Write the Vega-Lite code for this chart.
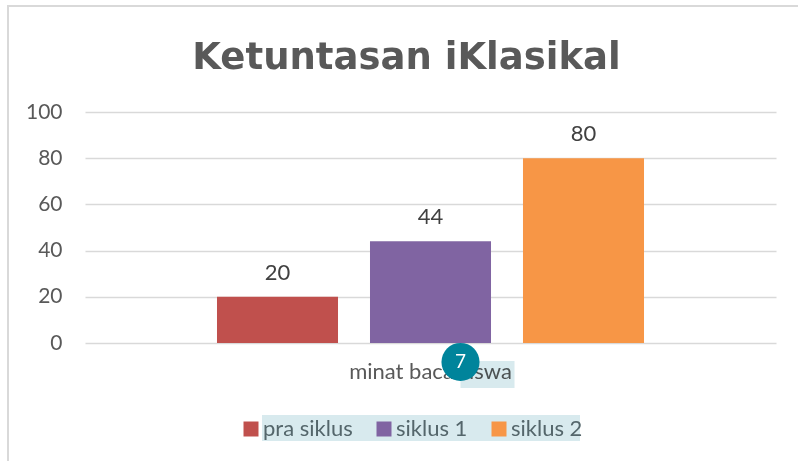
{"$schema":"https://vega.github.io/schema/vega-lite/v6.json","width":691,"height":231,"autosize":"none","padding":{"left":85,"top":112,"right":22,"bottom":118},"background":"white","view":{"stroke":null},"config":{"font":"Lato"},"title":{"text":"Ketuntasan iKlasikal","font":"DejaVu Sans","fontWeight":"bold","fontSize":37,"color":"#595959","anchor":"middle","frame":"group","dx":-24,"offset":-72},"data":{"values":[{"kategori":"minat baca siswa","seri":"pra siklus","nilai":20},{"kategori":"minat baca siswa","seri":"siklus 1","nilai":44},{"kategori":"minat baca siswa","seri":"siklus 2","nilai":80}]},"layer":[{"data":{"values":[{"kategori":"minat baca siswa","lo":-60,"hi":145.9}]},"mark":{"type":"bar","width":992,"xOffset":73.5,"fill":null,"stroke":"#d9d9d9","strokeWidth":2,"clip":false},"encoding":{"x":{"field":"kategori","type":"nominal","scale":{"paddingInner":0,"paddingOuter":0},"axis":{"title":null,"domain":false,"ticks":false,"labelAngle":0,"labelFontSize":22,"labelColor":"#595959","labelPadding":18,"grid":false}},"y":{"field":"lo","type":"quantitative"},"y2":{"field":"hi"}}},{"data":{"values":[{"kategori":"minat baca siswa","lo":-42.4,"hi":-31.2}]},"mark":{"type":"bar","width":318,"xOffset":-9.5,"fill":"#d8eaee","clip":false},"encoding":{"x":{"field":"kategori","type":"nominal"},"y":{"field":"lo","type":"quantitative"},"y2":{"field":"hi"}}},{"mark":{"type":"bar","clip":false},"encoding":{"x":{"field":"kategori","type":"nominal"},"xOffset":{"field":"seri","type":"nominal","scale":{"paddingInner":0.209,"paddingOuter":0.8627}},"y":{"field":"nilai","type":"quantitative","scale":{"domain":[0,100]},"axis":{"title":null,"values":[0,20,40,60,80,100],"domain":false,"ticks":false,"labelFontSize":21,"labelColor":"#595959","labelPadding":23,"grid":true,"gridColor":"#d9d9d9","gridWidth":1.5}},"color":{"field":"seri","type":"nominal","scale":{"domain":["pra siklus","siklus 1","siklus 2"],"range":["#c0504d","#8064a2","#f79646"]},"legend":{"title":null,"orient":"none","direction":"horizontal","columns":3,"legendX":155,"legendY":306,"symbolType":"square","symbolSize":225,"symbolStrokeWidth":0,"symbolOpacity":1,"labelFontSize":22,"labelColor":"#54666b","columnPadding":20,"labelOffset":1,"encode":{"symbols":{"update":{"fill":{"signal":"datum.value==='siklus 1'?'#6a659f':datum.value==='siklus 2'?'#d0924f':'#c0504d'"}}}}}}}},{"mark":{"type":"text","fontSize":22,"color":"#404040","dy":-24},"encoding":{"x":{"field":"kategori","type":"nominal"},"xOffset":{"field":"seri","type":"nominal"},"y":{"field":"nilai","type":"quantitative"},"text":{"field":"nilai","type":"quantitative"}}},{"data":{"values":[{"kategori":"minat baca siswa","lo":-19.5,"hi":-7.8}]},"mark":{"type":"bar","width":54,"xOffset":57,"fill":"#d8eaee","blend":"multiply","clip":false},"encoding":{"x":{"field":"kategori","type":"nominal"},"y":{"field":"lo","type":"quantitative"},"y2":{"field":"hi"}}},{"data":{"values":[{"kategori":"minat baca siswa","pos":-8.2,"label":"7"}]},"mark":{"type":"point","filled":true,"size":1450,"opacity":1,"color":"#00849b","xOffset":30,"clip":false},"encoding":{"x":{"field":"kategori","type":"nominal"},"y":{"field":"pos","type":"quantitative"}}},{"data":{"values":[{"kategori":"minat baca siswa","pos":-8.2,"label":"7"}]},"mark":{"type":"text","fontSize":19,"color":"white","xOffset":30,"clip":false},"encoding":{"x":{"field":"kategori","type":"nominal"},"y":{"field":"pos","type":"quantitative"},"text":{"field":"label"}}}]}
